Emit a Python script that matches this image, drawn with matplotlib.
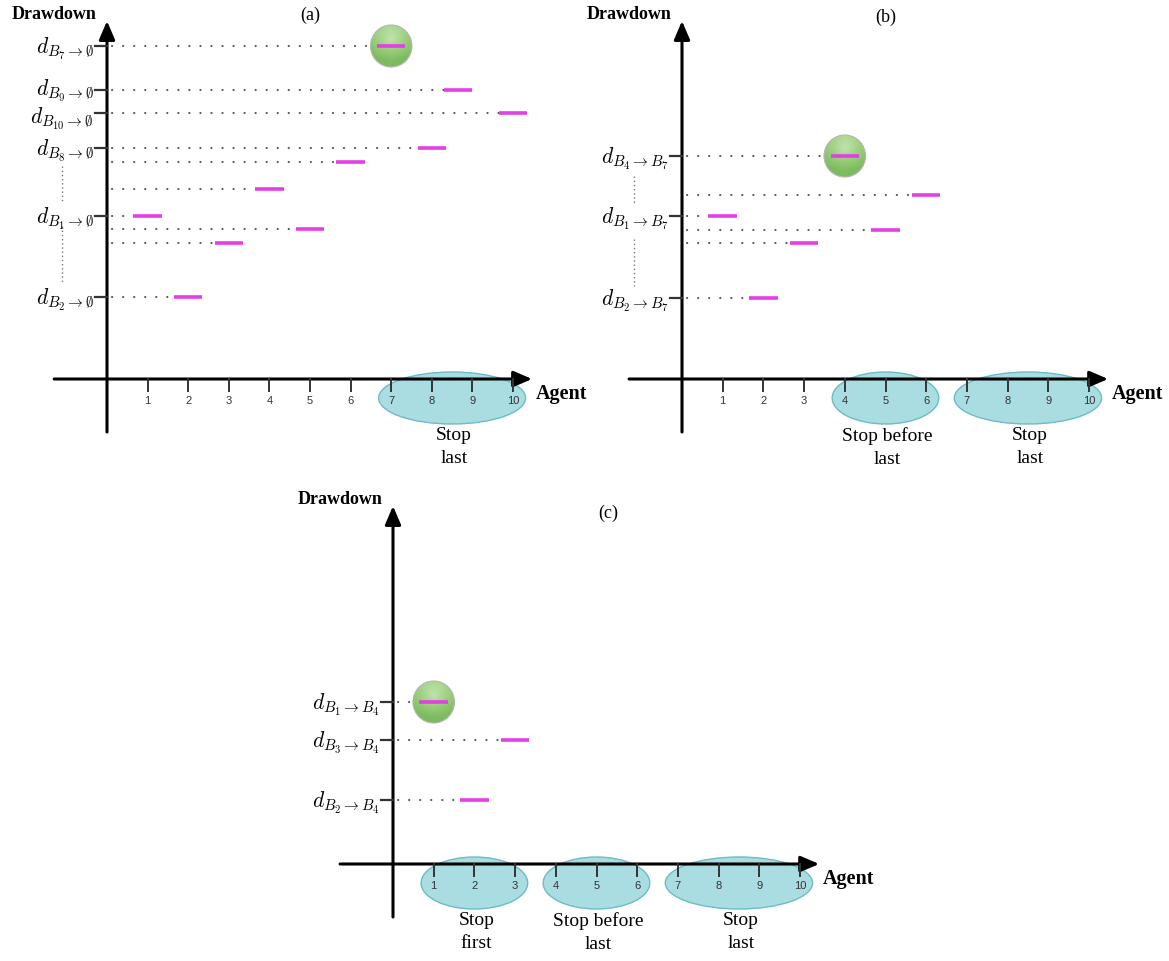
import numpy as np
import matplotlib.pyplot as plt
from matplotlib.patches import Ellipse
from matplotlib.colors import LinearSegmentedColormap

plt.rcParams['mathtext.fontset'] = 'cm'
SERIF = 'Liberation Serif'
SANS = 'Liberation Sans'

W, H = 1169, 962
agent_ticks = list(range(1, 11))

# (a) drawdown of each agent, coalition -> empty set
a_agents = [1, 2, 3, 4, 5, 6, 7, 8, 9, 10]
a_pos = [1, 2, 3, 4, 5, 6, 7, 8, 8.65, 10]
a_drawdown = [16.3, 8.2, 13.6, 19.0, 15.0, 21.7, 33.3, 23.1, 28.9, 26.6]
a_labelled = [7, 9, 10, 8, 1, 2]
a_best = 7
a_groups = [("Stop\nlast", 7, 10)]

# (b) drawdown towards B7
b_agents = [1, 2, 3, 4, 5, 6]
b_pos = [1, 2, 3, 4, 5, 6]
b_drawdown = [16.3, 8.1, 13.6, 22.3, 14.9, 18.4]
b_labelled = [4, 1, 2]
b_best = 4
b_groups = [("Stop before\nlast", 4, 6), ("Stop\nlast", 7, 10)]

# (c) drawdown towards B4
c_agents = [1, 2, 3]
c_pos = [1, 2, 3]
c_drawdown = [16.2, 6.4, 12.4]
c_labelled = [1, 3, 2]
c_best = 1
c_groups = [("Stop\nfirst", 1, 3), ("Stop before\nlast", 4, 6), ("Stop\nlast", 7, 10)]

green = LinearSegmentedColormap.from_list('g', ['#d3ebc4', '#9fd282', '#7dbb5f'])

fig = plt.figure(figsize=(W / 100, H / 100), dpi=100)


def make_axes(box, origin, sx, sy=10.0):
    x0, y0, x1, y1 = box
    ax = fig.add_axes([x0 / W, 1 - y1 / H, (x1 - x0) / W, (y1 - y0) / H])
    ox, oy = origin
    ax.set_xlim((x0 - ox) / sx, (x1 - ox) / sx)
    ax.set_ylim((oy - y1) / sy, (oy - y0) / sy)
    ax.axis('off')
    return ax


def draw_panel(ax, title, title_xy, agents, pos, dd, labelled, best, target,
               groups, seps=None, sep_x=-1.1, nudge=None):
    nudge = nudge or {}
    arrow = dict(arrowstyle='-|>,head_length=0.7,head_width=0.3', lw=2.2,
                 color='black', shrinkA=0, shrinkB=0, mutation_scale=16)
    ax.annotate('', xy=(10.47, 0), xytext=(-1.3, 0), arrowprops=arrow, zorder=3)
    ax.annotate('', xy=(0, 35.8), xytext=(0, -5.3), arrowprops=arrow, zorder=3)
    ax.text(-0.25, 36.6, 'Drawdown', ha='right', va='center', fontsize=13,
            fontweight='bold', family=SERIF)
    ax.text(10.56, -1.4, 'Agent', ha='left', va='center', fontsize=14.5,
            fontweight='bold', family=SERIF)
    ax.text(title_xy[0], title_xy[1], title, ha='center', va='center',
            fontsize=13, family=SERIF)

    for t in agent_ticks:
        ax.plot([t, t], [0, -1.2], color='#333333', lw=1.4, zorder=3)
        ax.text(t, -2.1, str(t), ha='center', va='center', fontsize=8,
                family=SANS, color='#333333')

    for name, first, last in groups:
        cx = (first + last) / 2
        ax.add_patch(Ellipse((cx, -1.9), last - first + 0.62, 5.2,
                             facecolor='#a9dde2', edgecolor='#6cbcc4',
                             lw=1, zorder=1))
        ax.text(cx + 0.05, -4.7, name, ha='center', va='top', fontsize=14,
                family=SERIF, linespacing=1.45)

    for ag, x, y in zip(agents, pos, dd):
        ax.plot([0.12, x - 0.35], [y, y], color='#555555', lw=1.5,
                linestyle=(0, (0.1, 5.2)), dash_capstyle='round', zorder=2)
        ax.plot([x - 0.35, x + 0.35], [y, y], color='#e43fe6', lw=2.6,
                solid_capstyle='butt', zorder=6)
        if ag == best:
            e = Ellipse((x, y), 1.02, 4.2, facecolor='none',
                        edgecolor='#b5b5b5', lw=0.8, zorder=5)
            ax.add_patch(e)
            yy, xx = np.mgrid[-1:1:200j, -1:1:200j]
            shade = np.clip(0.55 * np.hypot(xx, yy + 0.3) + 0.25 * (yy + 1), 0, 1)
            im = ax.imshow(shade, cmap=green, vmin=0, vmax=1,
                           extent=[x - 0.51, x + 0.51, y - 2.1, y + 2.1],
                           aspect='auto', zorder=4, interpolation='bilinear')
            im.set_clip_path(e)
        if ag in labelled:
            ax.plot([-0.3, 0], [y, y], color='#333333', lw=1.6, zorder=3)
            ax.text(-0.33, y - 0.2 + nudge.get(ag, 0),
                    r'$d_{B_{%d}\rightarrow %s}$' % (ag, target),
                    ha='right', va='center', fontsize=15.5)

    if seps:
        for top, bottom in seps:
            ax.plot([sep_x, sep_x], [top, bottom], color='#777777', lw=1,
                    linestyle=(0, (1, 2)))

    ax.set_xlim(ax.get_xlim())
    ax.set_ylim(ax.get_ylim())


ax_a = make_axes((0, 0, 585, 480), (107, 380), 40.6)
draw_panel(ax_a, '(a)', (5.0, 36.5), a_agents, a_pos, a_drawdown, a_labelled,
           a_best, r'\emptyset', a_groups, seps=[(21.3, 17.8), (15.3, 9.7)],
           sep_x=-1.1, nudge={9: 0.2, 10: -0.3})

ax_b = make_axes((585, 0, 1169, 480), (682, 380), 40.7)
draw_panel(ax_b, '(b)', (5.0, 36.3), b_agents, b_pos, b_drawdown, b_labelled,
           b_best, r'B_7', b_groups, seps=[(20.3, 17.5), (14.0, 9.3)],
           sep_x=-1.18)

ax_c = make_axes((280, 480, 880, 962), (393, 865), 40.7)
draw_panel(ax_c, '(c)', (5.3, 35.2), c_agents, c_pos, c_drawdown, c_labelled,
           c_best, r'B_4', c_groups)

fig.savefig('out.png', dpi=100)
